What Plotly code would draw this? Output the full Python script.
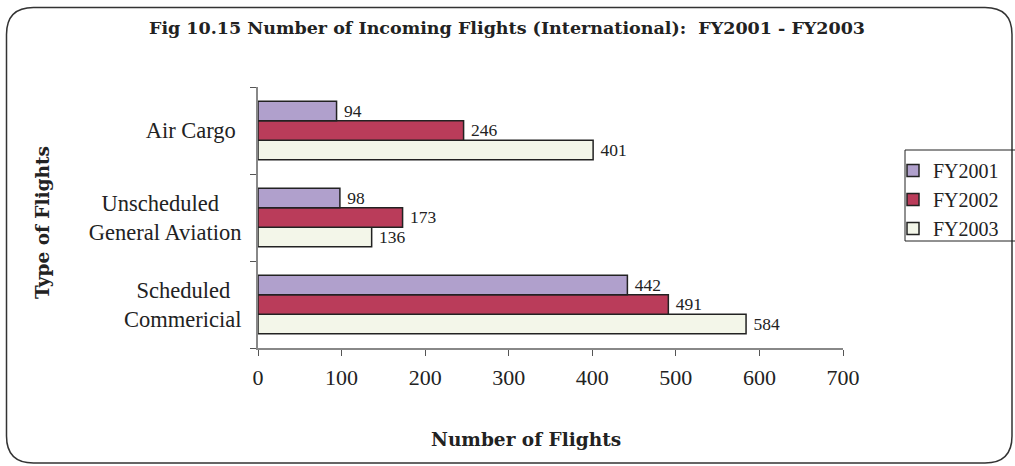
import plotly.graph_objects as go

categories = ["Scheduled Commericial", "Unscheduled General Aviation", "Air Cargo"]
category_labels = ["Scheduled<br>Commericial", "Unscheduled<br>General Aviation", "Air Cargo"]
fy2001 = [442, 98, 94]
fy2002 = [491, 173, 246]
fy2003 = [584, 136, 401]
tick_vals = [0, 100, 200, 300, 400, 500, 600, 700]

colors = {"FY2001": "#B0A0CC", "FY2002": "#BA3C5A", "FY2003": "#F3F6E9"}
FONT = "Liberation Serif, Times New Roman, serif"
BOLD = "DejaVu Serif, serif"
NB = "\u00a0"

# right-padding so the lines of each category label appear centred, as in the reference
pads = {"Scheduled": 2, "Unscheduled": 4, "Air Cargo": 1}
tick_text = []
for lab in category_labels:
    lines = [ln + NB * pads.get(ln, 0) for ln in lab.split("<br>")]
    tick_text.append("<br>".join(lines))

fig = go.Figure()
for name, vals in [("FY2003", fy2003), ("FY2002", fy2002), ("FY2001", fy2001)]:
    fig.add_trace(go.Bar(
        y=categories, x=vals, name=name, orientation="h",
        marker=dict(color=colors[name], line=dict(color="#222222", width=1.5)),
        text=[str(v) for v in vals], texttemplate=NB + "%{text}", textposition="outside",
        textfont=dict(family=FONT, size=18, color="#222222"),
        cliponaxis=False,
    ))

W, H = 1015, 466
L, R, T, B = 258, 172, 87, 118
pw, ph = W - L - R, H - T - B

def px(x):
    return (x - L) / pw

def py(y):
    return (H - B - y) / ph

x0, x1, y0, y1, r = 6.5, 1012, 7.5, 463, 27
path = (
    f"M {px(x0 + r)},{py(y0)} L {px(x1 - r)},{py(y0)} "
    f"Q {px(x1)},{py(y0)} {px(x1)},{py(y0 + r)} "
    f"L {px(x1)},{py(y1 - r)} Q {px(x1)},{py(y1)} {px(x1 - r)},{py(y1)} "
    f"L {px(x0 + r)},{py(y1)} Q {px(x0)},{py(y1)} {px(x0)},{py(y1 - r)} "
    f"L {px(x0)},{py(y0 + r)} Q {px(x0)},{py(y0)} {px(x0 + r)},{py(y0)} Z"
)

fig.update_layout(
    width=W, height=H,
    margin=dict(l=L, r=R, t=T, b=B, autoexpand=False),
    paper_bgcolor="white", plot_bgcolor="white",
    barmode="group", bargap=0.33, bargroupgap=0,
    font=dict(family=FONT, color="#222222"),
    showlegend=True,
    title=dict(text="<b>Fig 10.15 Number of Incoming Flights (International):  FY2001 - FY2003</b>",
               x=507 / W, xref="container", xanchor="center",
               y=1 - 28 / H, yref="container", yanchor="middle",
               font=dict(family=BOLD, size=17.5, color="#222222")),
    xaxis=dict(range=[0, 700], tickvals=tick_vals, showgrid=False, zeroline=False,
               showline=True, linecolor="#888888", linewidth=2,
               ticks="outside", ticklen=6, tickcolor="#555555",
               tickfont=dict(family=FONT, size=22, color="#222222"),
               ticklabelstandoff=3, automargin=False),
    yaxis=dict(showgrid=False, zeroline=False, showline=True, linecolor="#888888", linewidth=2,
               ticks="outside", ticklen=6, tickcolor="#555555", tickson="boundaries",
               categoryorder="array", categoryarray=categories,
               tickvals=categories, ticktext=tick_text,
               tickfont=dict(family=FONT, size=22.5, color="#222222"),
               ticklabelstandoff=10, automargin=False),
    legend=dict(x=px(893), y=py(151), xanchor="left", yanchor="top",
                traceorder="reversed", borderwidth=0, bgcolor="rgba(0,0,0,0)",
                font=dict(family=FONT, size=20, color="#222222"),
                itemwidth=30, tracegroupgap=0),
    shapes=[
        dict(type="path", xref="paper", yref="paper", path=path,
             line=dict(color="#333333", width=1.5), layer="below"),
        dict(type="rect", xref="paper", yref="paper",
             x0=px(905), x1=px(1030), y0=py(150), y1=py(241),
             line=dict(color="#222222", width=1), layer="below"),
    ],
    annotations=[
        dict(text="<b>Number of Flights</b>", xref="paper", yref="paper",
             x=px(526), y=py(439), xanchor="center", yanchor="middle", showarrow=False,
             font=dict(family=BOLD, size=18.5, color="#222222")),
        dict(text="<b>Type of Flights</b>", xref="paper", yref="paper",
             x=px(42), y=py(223), xanchor="center", yanchor="middle", showarrow=False,
             textangle=-90, font=dict(family=BOLD, size=18.5, color="#222222")),
    ],
)

fig.write_html("out.html", config={"displayModeBar": False},
               post_script="document.body.style.margin='0';")
